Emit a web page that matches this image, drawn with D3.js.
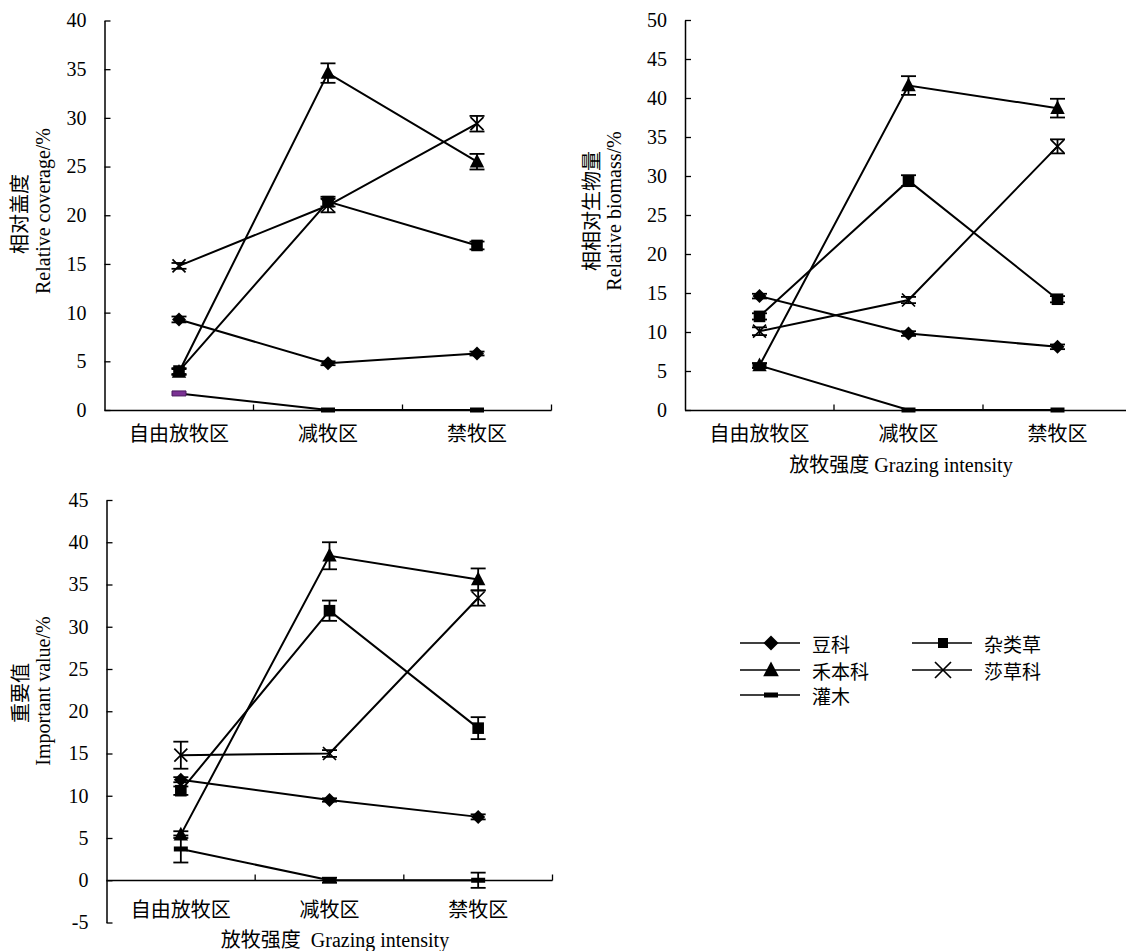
<!DOCTYPE html>
<html>
<head>
<meta charset="utf-8">
<script src="https://cdn.jsdelivr.net/npm/d3@7"></script>
<style>
  body { margin: 0; background: #fff; }
  svg { display: block; }
</style>
</head>
<body>
<script>
const categories = ['自由放牧区', '减牧区', '禁牧区'];
const groups = ['豆科', '禾本科', '灌木', '杂类草', '莎草科'];
const shapes = ['diamond', 'triangle', 'dash', 'square', 'cross'];

// rows follow the order of groups
const coverageValues = [[9.3, 4.8, 5.8], [3.9, 34.6, 25.5], [1.7, 0, 0], [4.0, 21.4, 16.9], [14.8, 21.0, 29.4]];
const coverageErrors = [[0.3, 0.2, 0.2], [0.3, 1.0, 0.8], [0, 0, 0], [0.3, 0.5, 0.4], [0.3, 0.7, 0.8]];
const biomassValues = [[14.6, 9.8, 8.1], [5.7, 41.6, 38.7], [5.7, 0, 0], [12.0, 29.4, 14.2], [10.1, 14.1, 33.8]];
const biomassErrors = [[0.3, 0.3, 0.3], [0.3, 1.2, 1.2], [0.3, 0, 0], [0.4, 0.7, 0.4], [0.5, 0.4, 0.9]];
const importanceValues = [[11.9, 9.5, 7.5], [5.4, 38.4, 35.6], [3.7, 0, 0], [10.6, 31.9, 18.0], [14.8, 15.0, 33.4]];
const importanceErrors = [[0.3, 0.2, 0.3], [0.4, 1.6, 1.3], [1.6, 0.3, 0.9], [0.5, 1.2, 1.3], [1.6, 0.4, 0.9]];

const serif = '"Liberation Serif", "Times New Roman", serif';
const cjk = '"Noto Sans CJK SC", sans-serif';
const mixed = '"Liberation Serif", "Noto Sans CJK SC", serif';

const W = 1126, H = 951;
const svg = d3.select('body').append('svg').attr('width', W).attr('height', H);

function markerPath(shape, s) {
    if (shape === 'diamond') return `M0,${-s}L${s},0L0,${s}L${-s},0Z`;
    if (shape === 'square') return `M${-s},${-s}H${s}V${s}H${-s}Z`;
    if (shape === 'triangle') return `M0,${-s * 1.1}L${s},${s * 0.8}L${-s},${s * 0.8}Z`;
    if (shape === 'cross') return `M${-s},${-s}L${s},${s}M${s},${-s}L${-s},${s}`;
    return `M${-s},-2.5H${s}V2.5H${-s}Z`;
}

function drawMarker(g, shape, cx, cy, big, color) {
    const sizes = {diamond: 7, square: 5.8, triangle: 7.2, cross: 6.5, dash: 7};
    let s = sizes[shape];
    if (big && shape === 'cross') s = 8;
    if (big && shape === 'diamond') s = 7.5;
    if (big && shape === 'triangle') s = 7.8;
    if (big && shape === 'square') s = 5;
    const p = g.append('path')
        .attr('d', markerPath(shape, s))
        .attr('transform', 'translate(' + cx + ',' + cy + ')');
    if (shape === 'cross') {
        p.attr('fill', 'none').attr('stroke', '#000').attr('stroke-width', 1.7);
    } else {
        p.attr('fill', color || '#000').attr('stroke', color ? '#4a1a5e' : 'none').attr('stroke-width', 1);
    }
}

function drawPanel(p) {
    const x = d3.scaleBand().domain(categories).range([p.left, p.right]);
    const y = d3.scaleLinear().domain(p.domain).range([p.bottom, p.top]);
    const g = svg.append('g');

    const yAxis = g.append('g')
        .attr('transform', 'translate(' + p.left + ',0)')
        .call(d3.axisLeft(y).ticks(p.ticks).tickSizeInner(-6).tickSizeOuter(0)
            .tickPadding(18).tickFormat(d => String(d)));
    yAxis.select('.domain').attr('stroke-width', 1.5);
    yAxis.selectAll('.tick line').attr('stroke-width', 1.3);
    yAxis.selectAll('text').attr('font-family', serif).attr('font-size', 20).attr('fill', '#000');

    // x axis line at zero with inside ticks on band edges
    const y0 = Math.round(y(0)) + 0.5;
    g.append('line')
        .attr('x1', p.left).attr('x2', Math.min(p.right, W))
        .attr('y1', y0).attr('y2', y0)
        .attr('stroke', '#000').attr('stroke-width', 1.5);
    const edges = categories.slice(1).map(c => x(c)).concat([p.right]);
    g.selectAll('.xtick').data(edges.filter(e => e < W)).enter().append('line')
        .attr('x1', d => d).attr('x2', d => d)
        .attr('y1', y0).attr('y2', y0 - 6)
        .attr('stroke', '#000').attr('stroke-width', 1.3);

    g.selectAll('.xlab').data(categories).enter().append('text')
        .attr('x', d => x(d) + x.bandwidth() / 2)
        .attr('y', p.labelY)
        .attr('text-anchor', 'middle')
        .attr('dominant-baseline', 'central')
        .attr('font-family', cjk).attr('font-size', 20)
        .text(d => d);

    // y titles
    p.yTitles.forEach(t => {
        g.append('text')
            .attr('transform', 'translate(' + t.x + ',' + t.y + ') rotate(-90)')
            .attr('text-anchor', 'middle')
            .attr('dominant-baseline', 'central')
            .attr('font-family', t.cjk ? cjk : serif).attr('font-size', 20)
            .text(t.text);
    });
    if (p.xTitle) {
        g.append('text')
            .attr('x', p.xTitle.x).attr('y', p.xTitle.y)
            .attr('text-anchor', 'middle')
            .attr('dominant-baseline', 'central')
            .attr('font-family', mixed).attr('font-size', 20)
            .attr('xml:space', 'preserve')
            .text(p.xTitle.text);
    }

    const cx = c => x(c) + x.bandwidth() / 2;
    const line = d3.line().x((d, i) => cx(categories[i])).y(d => y(d));

    g.selectAll('.series').data(p.values).enter().append('path')
        .attr('d', d => line(d))
        .attr('fill', 'none').attr('stroke', '#000').attr('stroke-width', 2);

    // error bars
    p.values.forEach((row, gi) => {
        row.forEach((v, ci) => {
            const e = p.errors[gi][ci];
            if (!e) return;
            const px = cx(categories[ci]);
            const top = y(v + e), bot = y(v - e);
            g.append('line').attr('x1', px).attr('x2', px).attr('y1', top).attr('y2', bot)
                .attr('stroke', '#000').attr('stroke-width', 1.8);
            [top, bot].forEach(yy => {
                g.append('line').attr('x1', px - 7.5).attr('x2', px + 7.5).attr('y1', yy).attr('y2', yy)
                    .attr('stroke', '#000').attr('stroke-width', 1.8);
            });
        });
    });

    p.values.forEach((row, gi) => {
        row.forEach((v, ci) => {
            let color = null;
            if (p.purpleShrub && shapes[gi] === 'dash' && ci === 0) color = '#7b3294';
            drawMarker(g, shapes[gi], cx(categories[ci]), y(v), false, color);
        });
    });
}

drawPanel({
    left: 104.5, right: 551.5, top: 20.5, bottom: 410, domain: [0, 40], ticks: 8,
    values: coverageValues, errors: coverageErrors, labelY: 432, purpleShrub: true,
    yTitles: [{x: 18, y: 214, text: '相对盖度', cjk: true}, {x: 43, y: 211, text: 'Relative coverage/%'}]
});
drawPanel({
    left: 685, right: 1132, top: 20, bottom: 410, domain: [0, 50], ticks: 10,
    values: biomassValues, errors: biomassErrors, labelY: 432,
    yTitles: [{x: 590, y: 211, text: '相相对生物量', cjk: true}, {x: 614, y: 211, text: 'Relative biomass/%'}],
    xTitle: {x: 901, y: 465, text: '放牧强度 Grazing intensity'}
});
drawPanel({
    left: 106.5, right: 552.5, top: 500, bottom: 922.5, domain: [-5, 45], ticks: 10,
    values: importanceValues, errors: importanceErrors, labelY: 908,
    yTitles: [{x: 19, y: 693, text: '重要值', cjk: true}, {x: 43, y: 691, text: 'Important value/%'}],
    xTitle: {x: 335, y: 940, text: '放牧强度  Grazing intensity'}
});

// legend
const legendRows = [
    {x: 740, y: 643, gi: 0}, {x: 740, y: 670, gi: 1}, {x: 740, y: 695, gi: 2},
    {x: 912, y: 643, gi: 3}, {x: 912, y: 670, gi: 4}
];
const legend = svg.append('g');
legendRows.forEach(r => {
    legend.append('line')
        .attr('x1', r.x).attr('x2', r.x + 60).attr('y1', r.y).attr('y2', r.y)
        .attr('stroke', '#000').attr('stroke-width', 1.5);
    drawMarker(legend, shapes[r.gi], r.x + 31, r.y, true, null);
    legend.append('text')
        .attr('x', r.x + 72).attr('y', r.y)
        .attr('dominant-baseline', 'central')
        .attr('font-family', cjk).attr('font-size', 19)
        .text(groups[r.gi]);
});
</script>
</body>
</html>
